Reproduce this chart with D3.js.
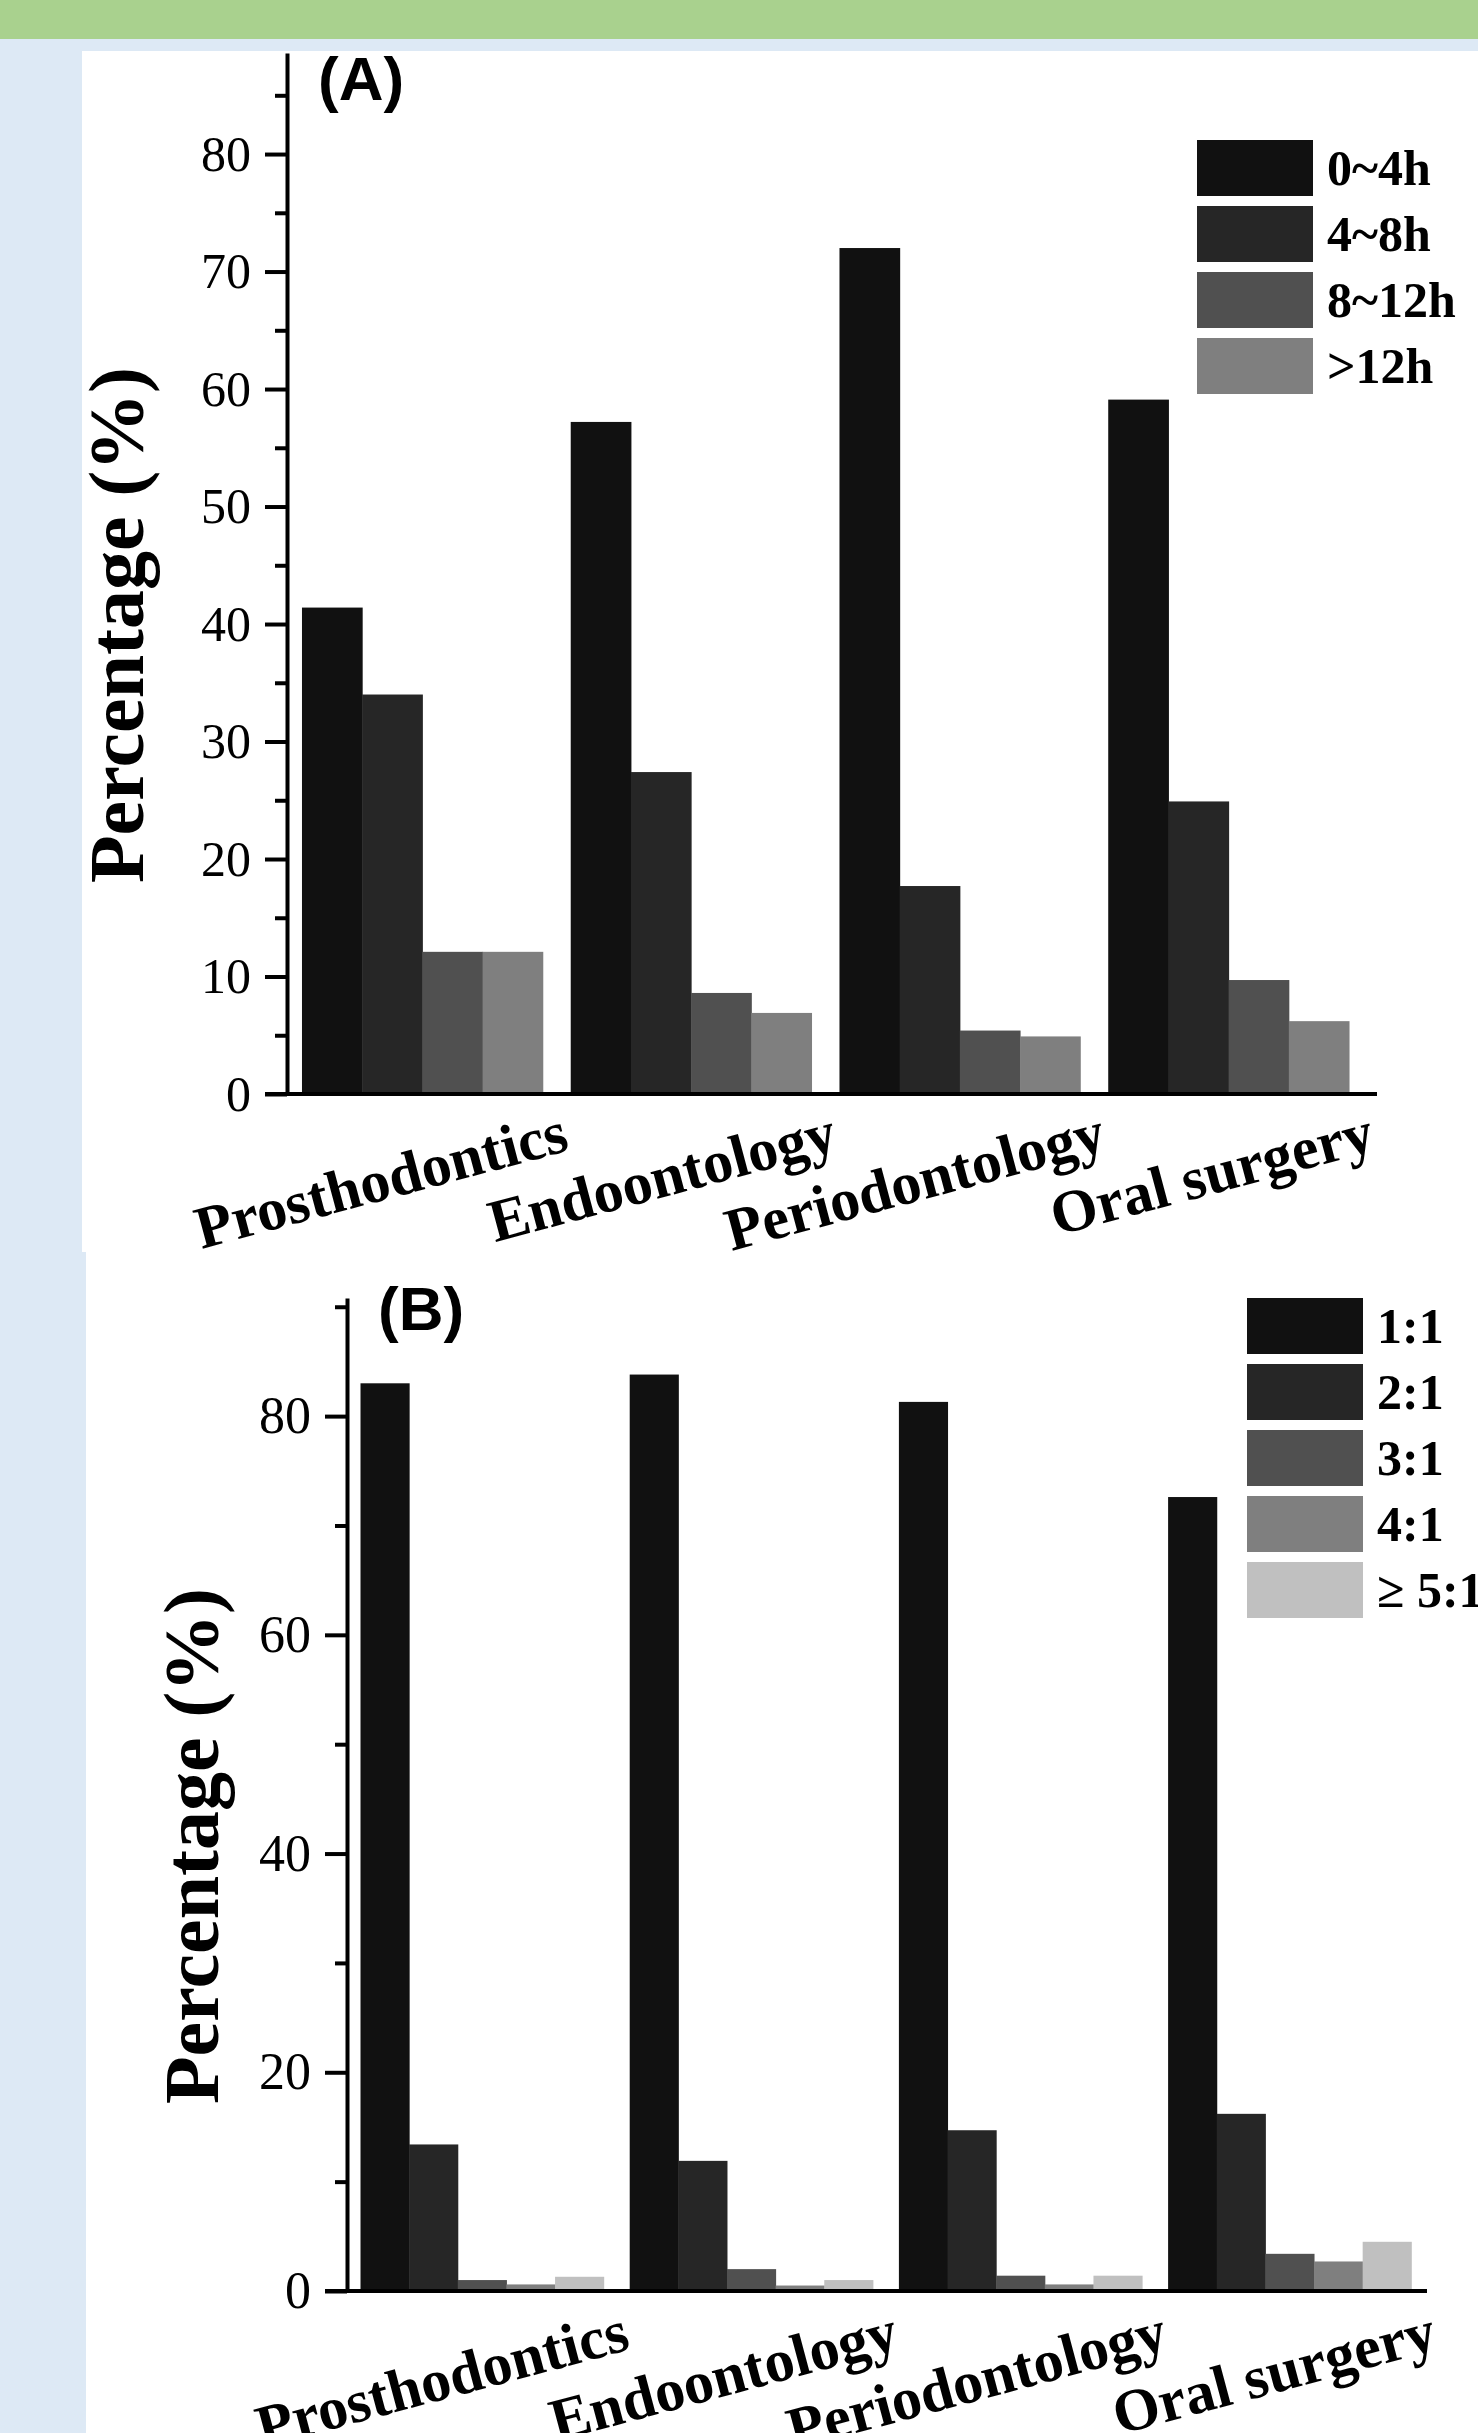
<!DOCTYPE html>
<html>
<head>
<meta charset="utf-8">
<script src="https://cdn.jsdelivr.net/npm/d3@7"></script>
<style>
  html, body { margin: 0; padding: 0; background: #dde9f5; }
  svg { display: block; }
</style>
</head>
<body>
<svg id="chart"></svg>
<script>
// Daten: Anteil (%) je Fachbereich
const departments = ["Prosthodontics", "Endoontology", "Periodontology", "Oral surgery"];

// (A) Dauer
const durationSeries = ["0~4h", "4~8h", "8~12h", ">12h"];
const durationValues = [
    [41.4, 34.0, 12.1, 12.1],
    [57.2, 27.4, 8.6, 6.9],
    [72.0, 17.7, 5.4, 4.9],
    [59.1, 24.9, 9.7, 6.2]
];

// (B) Verhältnis
const ratioSeries = ["1:1", "2:1", "3:1", "4:1", "\u2265 5:1"];
const ratioValues = [
    [83.0, 13.4, 1.0, 0.6, 1.3],
    [83.8, 11.9, 2.0, 0.5, 1.0],
    [81.3, 14.7, 1.4, 0.6, 1.4],
    [72.6, 16.2, 3.4, 2.7, 4.5]
];

// Achsen-Ticks
const majorTicksA = [0, 10, 20, 30, 40, 50, 60, 70, 80];
const minorTicksA = [5, 15, 25, 35, 45, 55, 65, 75, 85];
const majorTicksB = [0, 20, 40, 60, 80];
const minorTicksB = [10, 30, 50, 70, 90];

const greys = ["#111111", "#262626", "#505050", "#7f7f7f", "#c0c0c0"];

const serif = "'Liberation Serif', 'Times New Roman', serif";
const sans = "'Liberation Sans', Arial, sans-serif";

const W = 1478, H = 2433;
const svg = d3.select("#chart").attr("width", W).attr("height", H);

// Hintergrund
svg.append("rect").attr("width", W).attr("height", H).attr("fill", "#dde9f5");
svg.append("rect").attr("width", W).attr("height", 39).attr("fill", "#a9d18e");
svg.append("rect").attr("x", 82).attr("y", 51).attr("width", W - 82).attr("height", 1252 - 51).attr("fill", "#fff");
svg.append("rect").attr("x", 86).attr("y", 1252).attr("width", W - 86).attr("height", H - 1252).attr("fill", "#fff");

function drawPanel(p) {
    const g = svg.append("g");

    // Skalen
    const y = d3.scaleLinear().domain([0, p.yMax]).range([p.y0, p.yTop]);
    const x0 = d3.scaleBand()
        .domain(departments)
        .range(p.xRange)
        .paddingInner(p.pad)
        .paddingOuter(p.pad / 2);
    const x1 = d3.scaleBand().domain(p.series).range([0, x0.bandwidth()]);
    const color = d3.scaleOrdinal().domain(p.series).range(greys);

    // Balken
    g.append("g")
        .selectAll("g")
        .data(departments)
        .join("g")
        .attr("transform", d => `translate(${x0(d)},0)`)
        .selectAll("rect")
        .data((d, i) => p.series.map((s, j) => ({ s, v: p.values[i][j] })))
        .join("rect")
        .attr("x", d => x1(d.s))
        .attr("width", x1.bandwidth() + 0.5)
        .attr("y", d => y(d.v))
        .attr("height", d => y(0) - y(d.v))
        .attr("fill", d => color(d.s));

    // y-Achse: kleine Ticks
    g.append("g")
        .attr("transform", `translate(${p.xAxis},0)`)
        .call(d3.axisLeft(y).tickValues(p.minor).tickSize(12).tickFormat(""))
        .call(a => a.select(".domain").remove())
        .call(a => a.selectAll("line").attr("stroke", "#000").attr("stroke-width", 4));

    // y-Achse: Haupt-Ticks
    g.append("g")
        .attr("transform", `translate(${p.xAxis},0)`)
        .call(d3.axisLeft(y).tickValues(p.major).tickSize(22).tickSizeOuter(0).tickPadding(14))
        .call(a => a.select(".domain").attr("stroke", "#000").attr("stroke-width", 4))
        .call(a => a.selectAll("line").attr("stroke", "#000").attr("stroke-width", 4))
        .call(a => a.selectAll("text")
            .attr("font-family", serif)
            .attr("font-size", p.tickFont)
            .attr("fill", "#000"));

    // x-Achse
    g.append("line")
        .attr("x1", p.xAxis - 22)
        .attr("x2", p.xEnd)
        .attr("y1", y(0))
        .attr("y2", y(0))
        .attr("stroke", "#000")
        .attr("stroke-width", 4);

    // Kategorien, schräg
    g.selectAll("text.cat")
        .data(departments)
        .join("text")
        .attr("class", "cat")
        .attr("transform", d => `translate(${x0(d) + x0.bandwidth() + p.labelDx},${y(0) + p.labelDy}) rotate(-15)`)
        .attr("text-anchor", "end")
        .attr("font-family", serif)
        .attr("font-weight", "bold")
        .attr("font-size", 60)
        .text(d => d);

    // y-Titel
    g.append("text")
        .attr("transform", `translate(${p.yLabelX},${p.yLabelY}) rotate(-90)`)
        .attr("text-anchor", "middle")
        .attr("font-family", serif)
        .attr("font-weight", "bold")
        .attr("font-size", 78)
        .text("Percentage (%)");

    // Panel-Buchstabe
    g.append("text")
        .attr("x", p.xAxis + 31)
        .attr("y", p.letterY)
        .attr("font-family", sans)
        .attr("font-weight", "bold")
        .attr("font-size", 62)
        .text(p.letter);

    // Legende
    const leg = g.append("g")
        .selectAll("g")
        .data(p.series)
        .join("g")
        .attr("transform", (d, i) => `translate(${p.legX},${p.legY + i * 66})`);
    leg.append("rect")
        .attr("width", 116)
        .attr("height", 56)
        .attr("fill", d => color(d));
    leg.append("text")
        .attr("x", 130)
        .attr("y", 45)
        .attr("font-family", serif)
        .attr("font-weight", "bold")
        .attr("font-size", 50)
        .text(d => d);
}

drawPanel({
    letter: "(A)", series: durationSeries, values: durationValues,
    major: majorTicksA, minor: minorTicksA, yMax: 88.6,
    y0: 1094, yTop: 53, xAxis: 287, xEnd: 1377, xRange: [288, 1363], pad: 0.104,
    tickFont: 50, labelDx: 28, labelDy: 56, yLabelX: 143, yLabelY: 625, letterY: 100,
    legX: 1197, legY: 140
});

drawPanel({
    letter: "(B)", series: ratioSeries, values: ratioValues,
    major: majorTicksB, minor: minorTicksB, yMax: 90.8,
    y0: 2291, yTop: 1298, xAxis: 347, xEnd: 1427, xRange: [347.5, 1424.3], pad: 0.0966,
    tickFont: 52, labelDx: 28, labelDy: 58, yLabelX: 218, yLabelY: 1846, letterY: 1330,
    legX: 1247, legY: 1298
});
</script>
</body>
</html>
